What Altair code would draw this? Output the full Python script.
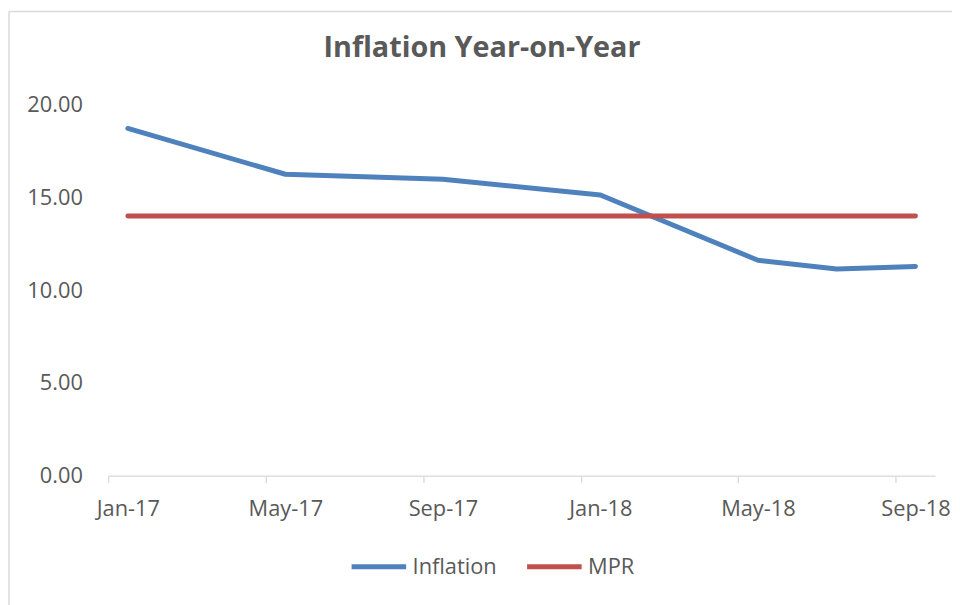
import altair as alt
import pandas as pd

# ---- data ----
months = ["2017-01", "2017-05", "2017-09", "2018-01", "2018-05", "2018-07", "2018-09"]
inflation = [18.72, 16.25, 15.98, 15.13, 11.61, 11.14, 11.28]
mpr = [14.0, 14.0, 14.0, 14.0, 14.0, 14.0, 14.0]
tick_labels = ["Jan-17", "May-17", "Sep-17", "Jan-18", "May-18", "Sep-18"]
y_ticks = [0, 5, 10, 15, 20]
series_names = ["Inflation", "MPR"]
series_colors = ["#4F81BD", "#C0504D"]
title_text = "Inflation Year-on-Year"

FONT = "Open Sans"
GREY = "#595959"
LINE_GREY = "#D9D9D9"
MONTH_NAMES = ["Jan", "Feb", "Mar", "Apr", "May", "Jun", "Jul", "Aug", "Sep", "Oct", "Nov", "Dec"]

def month_index(s):
    y, m = s.split("-")
    return (int(y) - 2017) * 12 + int(m) - 1

rows = []
for mo, v in zip(months, inflation):
    rows.append({"m": month_index(mo), "value": v, "series": "Inflation"})
for mo, v in zip(months, mpr):
    rows.append({"m": month_index(mo), "value": v, "series": "MPR"})
df = pd.DataFrame(rows)

tick_vals = [month_index(f"20{l[-2:]}-{MONTH_NAMES.index(l[:3]) + 1:02d}") for l in tick_labels]
label_map = "{" + ",".join(f"'{v}':'{l}'" for v, l in zip(tick_vals, tick_labels)) + "}"

W, H = 834, 374
n_months = 21
half = W / n_months / 2

x = alt.X(
    "m:Q",
    scale=alt.Scale(domain=[-0.5, n_months - 0.5], nice=False, zero=False),
    axis=alt.Axis(
        values=tick_vals,
        labelExpr=f"{label_map}[datum.value]",
        title=None,
        grid=False,
        domainColor=LINE_GREY,
        domainWidth=1.3,
        tickColor=LINE_GREY,
        tickWidth=1.3,
        tickSize=7,
        tickOffset=-half,
        labelOffset=half,
        labelPadding=16,
        labelFont=FONT,
        labelFontSize=22,
        labelColor=GREY,
    ),
)
y = alt.Y(
    "value:Q",
    scale=alt.Scale(domain=[0, 20], nice=False),
    axis=alt.Axis(
        values=y_ticks,
        format=".2f",
        title=None,
        grid=False,
        domain=False,
        ticks=False,
        labelPadding=26,
        labelFont=FONT,
        labelFontSize=22,
        labelColor=GREY,
    ),
)

lines = alt.Chart(df).mark_line(strokeWidth=5, strokeCap="round", strokeJoin="round").encode(
    x=x,
    y=y,
    color=alt.Color(
        "series:N",
        scale=alt.Scale(domain=series_names, range=series_colors),
        legend=alt.Legend(
            title=None,
            orient="none",
            legendX=243,
            legendY=436,
            direction="horizontal",
            symbolType="stroke",
            symbolSize=3025,
            symbolStrokeWidth=5,
            labelFont=FONT,
            labelFontSize=22,
            labelColor=GREY,
            labelOffset=4,
            columnPadding=20,
        ),
    ),
)

one = alt.Data(values=[{"t": title_text}])
border = alt.Chart(one).mark_rule(color=LINE_GREY, strokeWidth=1.5).encode(
    x=alt.value(-100), y=alt.value(-94), y2=alt.value(510)
)
border_top = alt.Chart(one).mark_rule(color=LINE_GREY, strokeWidth=1.5).encode(
    x=alt.value(-100), x2=alt.value(860), y=alt.value(-94)
)
title = alt.Chart(one).mark_text(
    font=FONT, fontSize=29, fontWeight="bold", color=GREY, align="center", baseline="alphabetic"
).encode(x=alt.value(377), y=alt.value(-48), text="t:N")

chart = alt.layer(border, border_top, title, lines).properties(
    width=W,
    height=H,
    autosize=alt.AutoSizeParams(type="none"),
    padding={"left": 101, "top": 95, "right": 17, "bottom": 128},
).configure(background="white").configure_view(stroke=None)

chart.save("out.html", embed_options={"renderer": "svg", "actions": False})
